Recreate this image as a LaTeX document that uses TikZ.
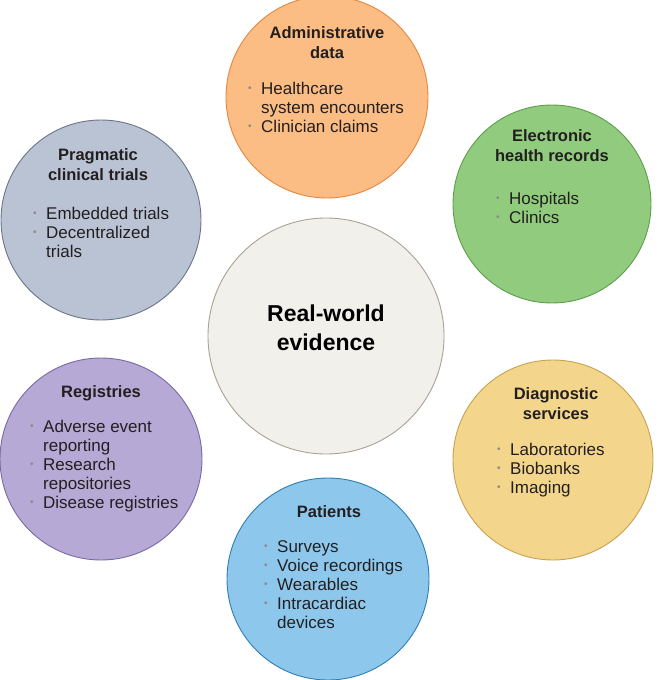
\documentclass[tikz,border=0pt]{standalone}
\usepackage{fontspec}
\setmainfont{Liberation Sans}
\definecolor{txt}{HTML}{231F20}
\definecolor{bul}{HTML}{8A8A8A}
\definecolor{admF}{HTML}{FBBD83}\definecolor{admD}{HTML}{E4873F}
\definecolor{ehrF}{HTML}{90CB7E}\definecolor{ehrD}{HTML}{5E9E4A}
\definecolor{prgF}{HTML}{BAC3D4}\definecolor{prgD}{HTML}{6B7489}
\definecolor{cenF}{HTML}{F2F0EA}\definecolor{cenD}{HTML}{A9A295}
\definecolor{regF}{HTML}{B6A9D6}\definecolor{regD}{HTML}{7A69A5}
\definecolor{diaF}{HTML}{F3D68C}\definecolor{diaD}{HTML}{C8A150}
\definecolor{patF}{HTML}{8DC8EC}\definecolor{patD}{HTML}{2F7EB4}
\newcommand\itm{\makebox[13pt][l]{\textcolor{bul}{\raisebox{2.2pt}{\fontsize{10}{10}\selectfont •}}}}
\newcommand\cnt{\hspace*{13pt}}
\newcommand\ttl[1]{\begin{tabular}[t]{@{}c@{}}#1\end{tabular}}
\newcommand\lst[1]{\begin{tabular}[t]{@{}l@{}}#1\end{tabular}}
\tikzset{
  bubble/.style={circle, inner sep=0pt, line width=0.9pt},
  title/.style={anchor=base, inner sep=0pt, text=txt, font=\fontsize{16.5}{20}\selectfont\bfseries},
  items/.style={anchor=base west, inner sep=0pt, text=txt, font=\fontsize{17}{19}\selectfont},
  centre/.style={anchor=base, inner sep=0pt, text=black, font=\fontsize{23}{29}\selectfont\bfseries}
}
\begin{document}
\begin{tikzpicture}[x=1pt, y=-1pt]
\useasboundingbox (0,0) rectangle (664,680);
% circles
\node[bubble, fill=admF, draw=admD, minimum size=202pt] (adm) at (327,97) {};
\node[bubble, fill=ehrF, draw=ehrD, minimum size=198pt] (ehr) at (552,204) {};
\node[bubble, fill=prgF, draw=prgD, minimum size=200pt] (prg) at (101,220) {};
\node[bubble, fill=cenF, draw=cenD, minimum size=236pt] (cen) at (326,336) {};
\node[bubble, fill=regF, draw=regD, minimum size=202pt] (reg) at (101,459) {};
\node[bubble, fill=diaF, draw=diaD, minimum size=200pt] (dia) at (553,460) {};
\node[bubble, fill=patF, draw=patD, minimum size=202pt] (pat) at (328,579) {};
% centre
\node[centre] (cenT) at (326,321) {\ttl{Real-world\\evidence}};
% administrative
\node[title] (admT) at (327,38) {\ttl{Administrative\\data}};
\node[items] (admL) at (248,94) {\lst{\itm Healthcare\\ \cnt system encounters\\ \itm Clinician claims}};
% EHR
\node[title] (ehrT) at (552,141) {\ttl{Electronic\\health records}};
\node[items] (ehrL) at (496,204) {\lst{\itm Hospitals\\ \itm Clinics}};
% pragmatic
\node[title] (prgT) at (98,160) {\ttl{Pragmatic\\clinical trials}};
\node[items] (prgL) at (33,219) {\lst{\itm Embedded trials\\ \itm Decentralized\\ \cnt trials}};
% registries
\node[title] (regT) at (101,397) {\ttl{Registries}};
\node[items] (regL) at (30,432) {\lst{\itm Adverse event\\ \cnt reporting\\ \itm Research\\ \cnt repositories\\ \itm Disease registries}};
% diagnostic
\node[title] (diaT) at (556,399) {\ttl{Diagnostic\\services}};
\node[items] (diaL) at (497,455) {\lst{\itm Laboratories\\ \itm Biobanks\\ \itm Imaging}};
% patients
\node[title] (patT) at (329,517) {\ttl{Patients}};
\node[items] (patL) at (264,552) {\lst{\itm Surveys\\ \itm Voice recordings\\ \itm Wearables\\ \itm Intracardiac\\ \cnt devices}};
\end{tikzpicture}
\end{document}
